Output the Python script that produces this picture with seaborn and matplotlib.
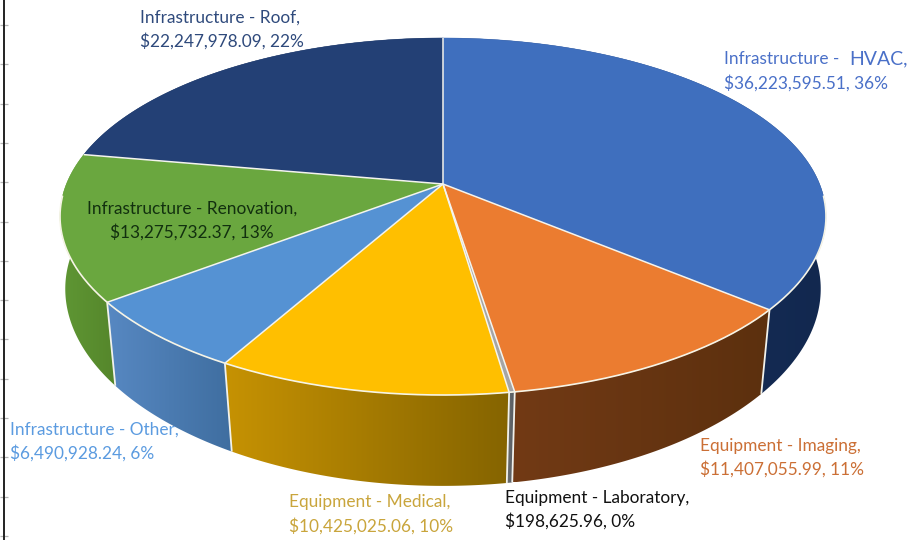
import numpy as np
import matplotlib
matplotlib.use("Agg")
import matplotlib.pyplot as plt
from matplotlib.colors import LinearSegmentedColormap
from matplotlib.patches import Polygon
import seaborn as sns

# Budget by category, clockwise from twelve o'clock
categories = ["Infrastructure - HVAC", "Equipment - Imaging", "Equipment - Laboratory",
              "Equipment - Medical", "Infrastructure - Other",
              "Infrastructure - Renovation", "Infrastructure - Roof"]
amounts = [36223595.51, 11407055.99, 198625.96, 10425025.06,
           6490928.24, 13275732.37, 22247978.09]

top_colors = ["#3F6FBE", "#EB7C30", "#A5A5A5", "#FFBF00", "#5592D3", "#6AA73F", "#234075"]
wall_left = ["#1C3564", "#723A15", "#6A6E72", "#C69203", "#5788C2", "#5F9734", "#14284D"]
wall_right = ["#12284F", "#5C300E", "#555A5E", "#856400", "#3F6EA0", "#55862B", "#14284D"]
label_colors = ["#4A70C8", "#CB6F35", "#111111", "#C9A53C", "#5B9BE0", "#12300F", "#2F4A7C"]

label_x = [724, 700, 505, 289, 10, 192, 140]
label_y = [59.5, 445.5, 497.5, 502.5, 429.5, 208.5, 17.5]
label_ha = ["left", "left", "left", "left", "left", "center", "left"]
line_gap = 23.5

# Perspective used for the disc: apex position, radii and depth scaling
APEX_X, APEX_Y = 443.0, 184.0
RADIUS_X, RADIUS_Y, TILT = 376.6, 172.6, 0.182
WALL_Y_SCALE, WALL_DROP = 1.08, 74.0

sns.set_theme(style="white")
plt.rcParams["font.family"] = ["Lato", "DejaVu Sans"]


def top_rim(theta):
    """Project clockwise angles (from twelve o'clock) onto the tilted disc."""
    x, y = np.sin(theta), np.cos(theta)
    w = 1 + TILT * y
    return APEX_X + RADIUS_X * x / w, APEX_Y - RADIUS_Y * y / w


def bottom_rim(theta):
    """Lower edge of the wall: narrows slightly towards the front of the pie."""
    x, y = top_rim(theta)
    narrowing = 1.012 - 0.00012 * y
    return APEX_X + narrowing * (x - APEX_X), APEX_Y + WALL_Y_SCALE * (y - APEX_Y) + WALL_DROP


fig = plt.figure(figsize=(9.2, 5.4), dpi=100)
ax = fig.add_axes([0, 0, 1, 1])
ax.set_axis_off()

total = sum(amounts)
edges = 2 * np.pi * np.cumsum([0] + amounts) / total
pairs = list(zip(edges[:-1], edges[1:]))

# Walls, painted from the back of the pie to the front
for i in [6, 0, 5, 1, 4, 3, 2]:
    t = np.linspace(pairs[i][0], pairs[i][1], 160)
    tx, ty = top_rim(t)
    bx, by = bottom_rim(t)
    px = np.r_[tx, bx[::-1]]
    py = np.r_[ty, by[::-1]]
    patch = Polygon(np.c_[px, py], closed=True, fc="none", ec="none", transform=ax.transData)
    ax.add_patch(patch)
    cmap = LinearSegmentedColormap.from_list("wall", [wall_left[i], wall_right[i]])
    im = ax.imshow(np.linspace(0, 1, 128)[None, :], cmap=cmap, aspect="auto", zorder=2,
                   extent=(px.min(), px.max(), py.max(), py.min()), interpolation="bilinear")
    im.set_clip_path(patch)

ax.set_xlim(0, 920)
ax.set_ylim(540, 0)

# Pale seams down the wall at every visible slice boundary
for theta in edges[1:-1]:
    if np.cos(theta) < 0:
        x0, y0 = top_rim(theta)
        x1, y1 = bottom_rim(theta)
        ax.plot([x0, x1], [y0, y1], color="#F2F2EC", lw=1.3, zorder=3, solid_capstyle="butt")

# Top faces
for i, (a, b) in enumerate(pairs):
    t = np.linspace(a, b, 200)
    x, y = top_rim(t)
    ax.fill(np.r_[APEX_X, x], np.r_[APEX_Y, y], color=top_colors[i], lw=0.3, zorder=4)

# Spokes between slices and the highlighted front rim
for theta in edges[:-1]:
    x, y = top_rim(theta)
    ax.plot([APEX_X, x], [APEX_Y, y], color="#F4F4EE", lw=1.1, zorder=5, solid_capstyle="butt")
t_front = np.linspace(np.radians(94), np.radians(266), 300)
ax.plot(*top_rim(t_front), color="#F6F4E6", lw=1.2, zorder=5)

# Data labels: name on the first line, amount and share on the second
fig.canvas.draw()
renderer = fig.canvas.get_renderer()
for i, name in enumerate(categories):
    share = round(100 * amounts[i] / total)
    detail = f"${amounts[i]:,.2f}, {share}%"
    style = dict(color=label_colors[i], ha=label_ha[i], va="center", fontsize=12.4, zorder=6)
    if name.endswith("HVAC"):
        head = ax.text(label_x[i], label_y[i], "Infrastructure -", **style)
        end = head.get_window_extent(renderer).x1
        ax.text(end + 10, label_y[i] - 1, "HVAC,", color=label_colors[i], ha="left", va="center",
                fontsize=14, zorder=6)
    else:
        ax.text(label_x[i], label_y[i], f"{name},", **style)
    ax.text(label_x[i], label_y[i] + line_gap, detail, **style)

# Worksheet border and row gridlines along the left side
rows = np.arange(25, 540, 39.3)
ax.hlines(rows, 0, 8, color="#B4B4B4", lw=0.9, zorder=1)
ax.axvline(4.5, color="#222222", lw=1.4, zorder=1)

fig.savefig("out.png", dpi=100, facecolor="white")
